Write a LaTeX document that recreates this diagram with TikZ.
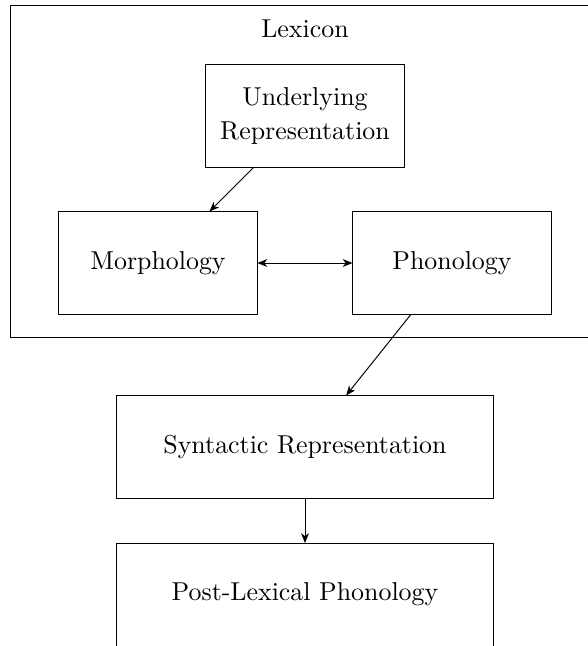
\documentclass[tikz,border=0pt]{standalone}
\usetikzlibrary{arrows.meta}
\begin{document}
\begin{tikzpicture}[x=0.4115pt,y=-0.4115pt,
  every node/.style={font=\fontsize{10.65}{13}\selectfont},
  box/.style={draw,line width=0.4pt,minimum width=81.5pt,minimum height=42pt,inner sep=0pt,align=center},
  widebox/.style={box,minimum width=155.5pt},
  arr/.style={-{Stealth[length=4pt,width=3.2pt,inset=1.2pt]},line width=0.4pt},
  darr/.style={{Stealth[length=4pt,width=3.2pt,inset=1.2pt]}-{Stealth[length=4pt,width=3.2pt,inset=1.2pt]},line width=0.4pt}]
\useasboundingbox (0,0) rectangle (588,646);
\clip (0,0) rectangle (588,646);
\draw[line width=0.4pt] (10,5) rectangle (620,337);
\node (lex) at (305,29) {Lexicon};
\node[box] (ur) at (305,116) {Underlying\\[0.6pt]Representation};
\node[box] (morph) at (158,263) {Morphology};
\node[box] (phon) at (452,263) {Phonology};
\node[widebox] (syn) at (305,447) {Syntactic Representation};
\node[widebox,minimum height=0pt,text height=23.5pt,text depth=22.5pt,anchor=north] (post) at (305,543) {Post-Lexical Phonology};
\draw[arr] (ur) -- (morph);
\draw[darr] (morph) -- (phon);
\draw[arr] (phon) -- (syn);
\draw[arr] (syn) -- (post);
\end{tikzpicture}
\end{document}
